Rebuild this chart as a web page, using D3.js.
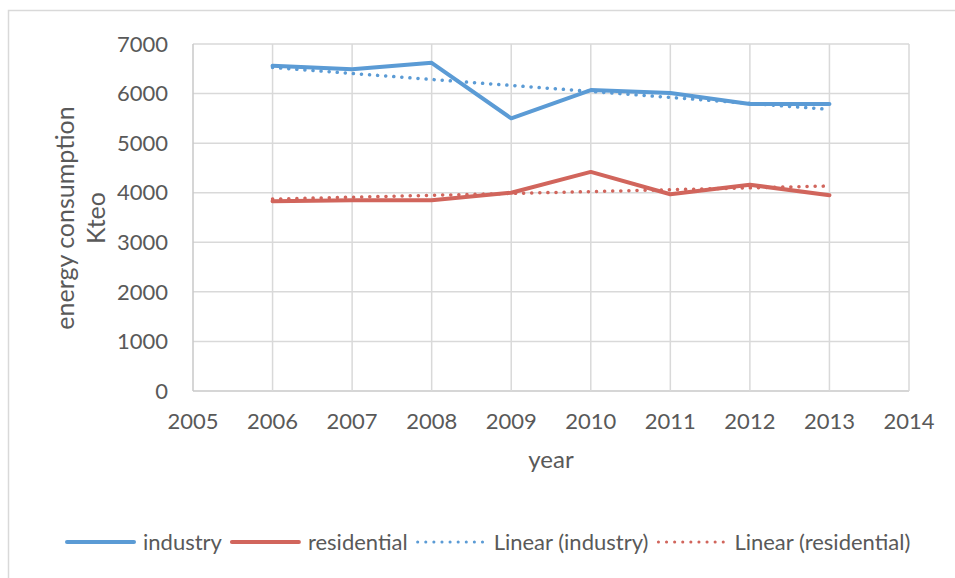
<!DOCTYPE html>
<html>
<head>
<meta charset="utf-8">
<script src="https://cdn.jsdelivr.net/npm/d3@7"></script>
<style>
  body { margin: 0; background: #fff; }
  text { font-family: Lato, "Open Sans", sans-serif; fill: #595959; }
</style>
</head>
<body>
<svg width="955" height="578"></svg>
<script>
const years = [2006, 2007, 2008, 2009, 2010, 2011, 2012, 2013];
const industry = [6560, 6490, 6620, 5500, 6070, 6010, 5790, 5790];
const residential = [3830, 3850, 3850, 4000, 4420, 3970, 4160, 3950];
const xTicks = [2005, 2006, 2007, 2008, 2009, 2010, 2011, 2012, 2013, 2014];
const yTicks = [0, 1000, 2000, 3000, 4000, 5000, 6000, 7000];

const blue = "#5b9bd5";
const red = "#d1655c";
const grid = "#d9d9d9";

const svg = d3.select("svg");
const x = d3.scaleLinear().domain([2005, 2014]).range([193, 909]);
const y = d3.scaleLinear().domain([0, 7000]).range([391, 44]);

// chart area border
svg.append("path").attr("d", "M8.5,578V10.5H955")
  .attr("fill", "none").attr("stroke", grid).attr("stroke-width", 1.5);

// gridlines
svg.append("g").selectAll("line").data(yTicks).join("line")
  .attr("x1", x(2005)).attr("x2", x(2014))
  .attr("y1", d => y(d)).attr("y2", d => y(d))
  .attr("stroke", d => d === 0 ? "#c8c8c8" : grid).attr("stroke-width", 1.5);
svg.append("g").selectAll("line").data(xTicks).join("line")
  .attr("x1", d => x(d)).attr("x2", d => x(d))
  .attr("y1", y(0)).attr("y2", y(7000))
  .attr("stroke", d => d === 2005 ? "#c8c8c8" : grid).attr("stroke-width", 1.5);

// tick labels
svg.append("g").selectAll("text").data(yTicks).join("text")
  .attr("x", 168).attr("y", d => y(d)).attr("dy", "0.35em")
  .attr("text-anchor", "end").attr("font-size", 22).text(d => d);
svg.append("g").selectAll("text").data(xTicks).join("text")
  .attr("x", d => x(d)).attr("y", 429)
  .attr("text-anchor", "middle").attr("font-size", 22).text(d => d);

// axis titles
svg.append("text").attr("x", 551).attr("y", 468)
  .attr("text-anchor", "middle").attr("font-size", 24).text("year");
const yt = svg.append("text").attr("transform", "translate(0,218) rotate(-90)")
  .attr("text-anchor", "middle").attr("font-size", 25);
yt.append("tspan").attr("x", 0).attr("y", 74).text("energy consumption");
yt.append("tspan").attr("x", 0).attr("y", 105).text("Kteo");

// linear trend (least squares) from the data
function trend(vals) {
  const mx = d3.mean(years), my = d3.mean(vals);
  const b = d3.sum(years, (t, i) => (t - mx) * (vals[i] - my)) / d3.sum(years, t => (t - mx) ** 2);
  return years.map(t => my + b * (t - mx));
}

const line = d3.line().x((d, i) => x(years[i])).y(d => y(d));

const series = [
  { vals: industry, color: blue, dotted: false },
  { vals: residential, color: red, dotted: false },
  { vals: trend(industry), color: blue, dotted: true },
  { vals: trend(residential), color: red, dotted: true }
];

series.forEach(s => {
  svg.append("path").datum(s.vals).attr("d", line)
    .attr("fill", "none").attr("stroke", s.color)
    .attr("stroke-width", s.dotted ? 3.5 : 4)
    .attr("stroke-linejoin", "round")
    .attr("stroke-linecap", "round")
    .attr("stroke-dasharray", s.dotted ? "0.1 8" : null);
});

// legend
const legendItems = [
  { name: "industry", color: blue, dotted: false },
  { name: "residential", color: red, dotted: false },
  { name: "Linear (industry)", color: blue, dotted: true },
  { name: "Linear (residential)", color: red, dotted: true }
];
let lx = 67;
const ly = 542;
legendItems.forEach(it => {
  svg.append("line").attr("x1", lx).attr("x2", lx + 67).attr("y1", ly).attr("y2", ly)
    .attr("stroke", it.color).attr("stroke-width", it.dotted ? 3 : 4)
    .attr("stroke-linecap", "round")
    .attr("stroke-dasharray", it.dotted ? "0.1 8" : null);
  const t = svg.append("text").attr("x", lx + 76).attr("y", ly).attr("dy", "0.35em")
    .attr("font-size", 22).text(it.name);
  lx += 76 + t.node().getComputedTextLength() + 10;
});
</script>
</body>
</html>
